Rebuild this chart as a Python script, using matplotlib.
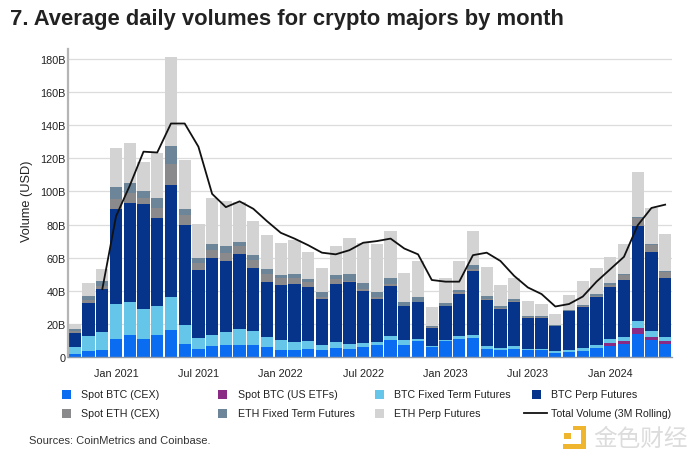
import numpy as np
import matplotlib
matplotlib.use("Agg")
import matplotlib.pyplot as plt
from matplotlib.patches import Rectangle
from matplotlib.lines import Line2D

plt.rcParams['font.family'] = ['Liberation Sans', 'DejaVu Sans']

months = list(range(44))  # Oct 2020 .. May 2024
tick_pos = [3, 9, 15, 21, 27, 33, 39]
tick_labels = ['Jan 2021', 'Jul 2021', 'Jan 2022', 'Jul 2022', 'Jan 2023', 'Jul 2023', 'Jan 2024']
y_ticks = [0, 20, 40, 60, 80, 100, 120, 140, 160, 180]
y_labels = ['0', '20B', '40B', '60B', '80B', '100B', '120B', '140B', '160B', '180B']

# Stack tops (USD bn)
top_spot_btc = [2,3.5,4.5,11,13,11,13,16.5,8,5,6.5,7,7.5,7.5,6,4.5,4.5,5,4,5.5,5,6,7,10.5,7.5,9.5,6,9.5,11,11.5,5,4,5,4,4,2.5,3,3.5,5.5,6.5,8,14,10,8]
top_etf = [2,3.5,4.5,11,13,11,13,16.5,8,5,6.5,7,7.5,7.5,6,4.5,4.5,5,4,5.5,5,6,7,10.5,7.5,9.5,6,9.5,11,11.5,5,4,5,4,4,2.5,3,3.5,5.5,8.5,9.5,17.5,12,9.5]
top_btc_fixed = [6,12.5,15,32,33,29,30.5,36,19.5,11.5,13.5,15,17,16,12,10,9,9.5,7,9,8,8.5,9,12.5,10,11,6.5,10.5,12.5,13.5,6.5,5.5,6.5,5,5,3.5,4.5,5.5,7.5,11,12,22,16,12]
top_btc_perp = [14.5,32.5,41,89.5,93,92.5,84,104,80,52.5,59.5,58,62.5,53.5,45,43.5,44,42.5,35,44,45,40,35,43,30.5,33,17.5,30.5,38,52,34.5,29,33.5,23.5,23.5,18.5,27.5,30,36,42,46.5,79,63.5,48]
top_spot_eth = [16,34.5,43,95.5,99,96,90,116.5,85.5,57,64.5,63,67,58.5,50,47.5,47.5,45,36,47,46,41,36,44,31,33.5,18,31,39,53,35,29.5,34,24,24,19,28,30.5,37,43.5,49.5,84,67.5,51.5]
top_eth_fixed = [17,37,46,102.5,105,100,96,127.5,89.5,59.5,68,67,69.5,61.5,53,49.5,50,47,39,49.5,50,44.5,39,48,33,36.5,19,32.5,40.5,55.5,37,30.5,35,24.5,24.5,19.5,28.5,31.5,38,44.5,50,84.5,68,52]
top_eth_perp = [20,44.5,53,126,129,117.5,123,181,119,80.5,96,94,93.5,82,73.5,69,70.5,63.5,54,67,72,69,68.5,76,51,58,30,48,58,76,54.5,43.5,48,34,32,26,37.5,46,53.5,60.5,68,112,90,74]
total_3m = [41,85,103.5,124,123.5,141,141,127,98.5,90.5,94,89.5,82,75,71.5,67.5,63,62,64.5,69,70,71.5,65.5,62,46.5,45.5,45.5,61.5,63,58,49,42,38,30.5,32,36.5,45.5,53,60.5,79.5,90,92]

series_names = ['Spot BTC (CEX)', 'Spot BTC (US ETFs)', 'BTC Fixed Term Futures', 'BTC Perp Futures',
                'Spot ETH (CEX)', 'ETH Fixed Term Futures', 'ETH Perp Futures']
series_colors = ['#0a6cf0', '#8a2a85', '#66c6ea', '#05348a', '#8a8a8c', '#6c8598', '#d3d3d3']
tops = [top_spot_btc, top_etf, top_btc_fixed, top_btc_perp, top_spot_eth, top_eth_fixed, top_eth_perp]

W, H = 700, 464
fig = plt.figure(figsize=(7, 4.64), dpi=100)
ax = fig.add_axes([68/W, 1-358/H, (672-68)/W, (358-50)/H])

prev = np.zeros(len(months))
for top, c in zip(tops, series_colors):
    top = np.array(top, float)
    ax.bar(months, top-prev, bottom=prev, width=0.9, color=c, edgecolor='none', zorder=2)
    prev = top
ax.plot(months[2:], total_3m, color='#111111', lw=1.3, zorder=3)

ax.set_xlim(-0.5, 43.5)
ax.set_ylim(0, 186)
ax.set_xticks(tick_pos, tick_labels, fontsize=7.8, color='#222222')
ax.set_yticks(y_ticks, y_labels, fontsize=7.8, color='#222222')
ax.tick_params(axis='x', length=0, pad=8)
ax.tick_params(axis='y', length=0, pad=1.5)
ax.set_ylabel('Volume (USD)', fontsize=9.2, color='#222222')
ax.yaxis.set_label_coords((33-68)/(672-68), (358-201)/(358-50))
ax.grid(axis='y', color='#dcdcdc', lw=0.9, zorder=0)
ax.set_axisbelow(True)
for s in ['top', 'right']:
    ax.spines[s].set_visible(False)
ax.spines['left'].set_color('#b5b5b5')
ax.spines['left'].set_linewidth(1.6)
ax.spines['bottom'].set_color('#8f9aa8')
ax.spines['bottom'].set_linewidth(1.0)

fig.text(10/W, 1-19/H, '7. Average daily volumes for crypto majors by month',
         fontsize=15.8, fontweight='bold', color='#222222', va='center', ha='left')

# Legend
col_marker = [66, 222, 379, 536]
col_text = [81, 237.5, 394, 551]
rows = [395, 414]
layout = [(0, 0), (0, 1), (0, 2), (0, 3), (1, 0), (1, 1), (1, 2)]
for name, c, (r, col) in zip(series_names, series_colors, layout):
    fig.add_artist(Rectangle(((col_marker[col]-4.5)/W, 1-(rows[r]+4.5)/H), 9/W, 9/H,
                             transform=fig.transFigure, facecolor=c, edgecolor='none'))
    fig.text(col_text[col]/W, 1-rows[r]/H, name, fontsize=7.7, color='#222222', va='center', ha='left')
fig.add_artist(Line2D([524/W, 547/W], [1-414/H, 1-414/H], transform=fig.transFigure, color='#111111', lw=1.3))
fig.text(551/W, 1-414/H, 'Total Volume (3M Rolling)', fontsize=7.6, color='#222222', va='center', ha='left')

fig.text(29/W, 1-441/H, 'Sources: CoinMetrics and Coinbase.', fontsize=8.0, color='#333333', va='center', ha='left')

# Watermark
gold = '#efb52f'
for (x0, y0, x1, y1) in [(573, 427, 586, 431), (581, 427, 586, 450), (563, 445, 586, 450), (564, 434, 571, 440)]:
    fig.add_artist(Rectangle((x0/W, 1-y1/H), (x1-x0)/W, (y1-y0)/H, transform=fig.transFigure,
                             facecolor=gold, edgecolor='none'))
fig.text(641/W, 1-439/H, '金色财经', fontsize=17, color='#dcdcdc', va='center', ha='center',
         family=['Noto Sans CJK SC', 'DejaVu Sans'])

fig.savefig('out.png', dpi=100)
